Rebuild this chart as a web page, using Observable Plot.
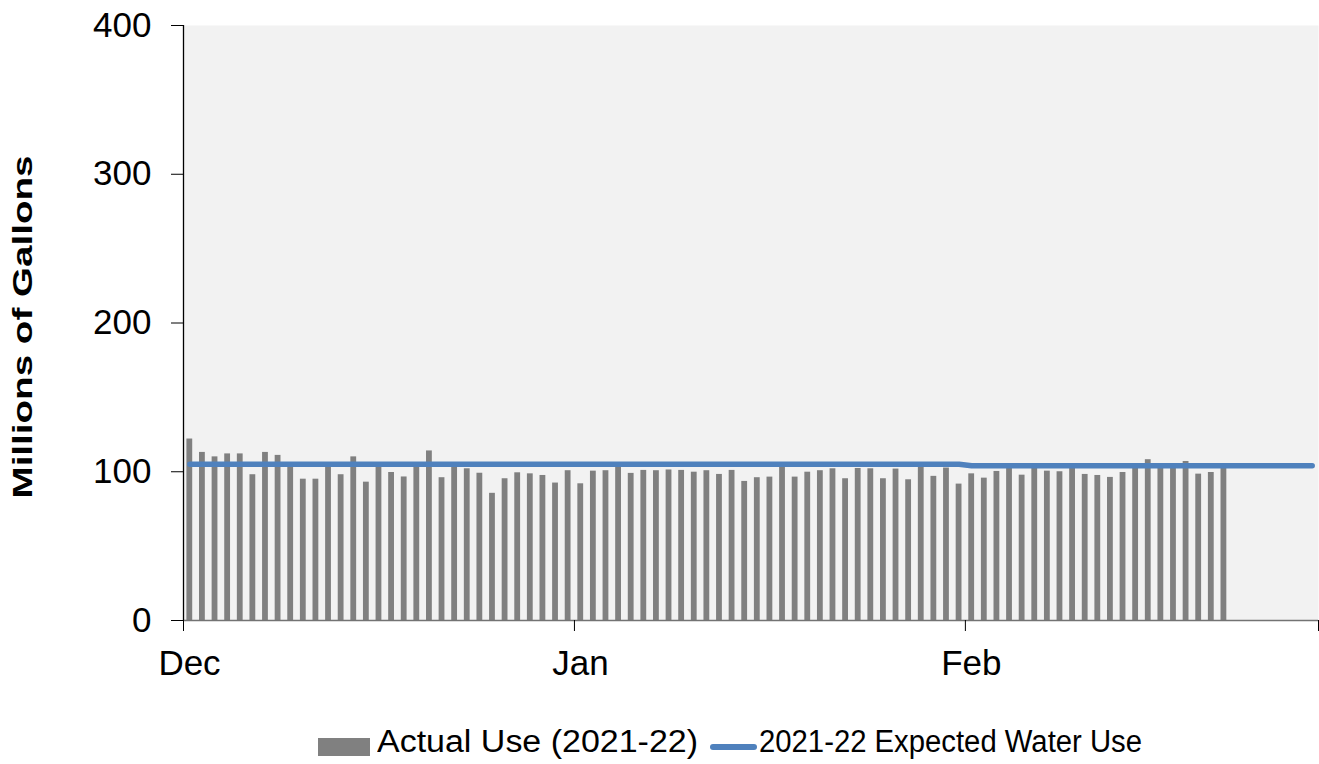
<!DOCTYPE html>
<html>
<head>
<meta charset="utf-8">
<script src="https://cdn.jsdelivr.net/npm/d3@7"></script>
<script src="https://cdn.jsdelivr.net/npm/@observablehq/plot@0.6"></script>
<style>
  body { margin: 0; background: #fff; font-family: "Liberation Sans", Arial, sans-serif; position: relative; width: 1319px; height: 764px; overflow: hidden; }
  .lg { position: absolute; }
  .lg-text { font-size: 31px; line-height: 30px; color: #000; white-space: nowrap; display: inline-block; transform-origin: 0 50%; }
</style>
</head>
<body>
<div id="chart"></div>
<div class="lg" id="sw1" style="left:318px;top:738px;width:52px;height:18px;background:#808080;"></div>
<div class="lg lg-text" id="lt1" style="left:377px;top:727px;"></div>
<div class="lg" id="sw2" style="left:710px;top:744px;width:47px;height:6px;border-radius:3px;background:#4f81bd;"></div>
<div class="lg lg-text" id="lt2" style="left:759px;top:727px;"></div>
<script>
// ---- data ----
const startDate = "2021-12-01";
const actualUse = [
  122, 113, 110, 112, 112, 98, 113, 111, 105, 95,
  95, 105, 98, 110, 93, 105, 99.5, 96.5, 105, 114,
  96, 105, 102, 99, 85.5, 95.3, 99.3, 98.6, 97.5, 92.4,
  100.7, 91.9, 100.4, 100.7, 105, 98.9, 100.9, 100.7, 101.2, 100.9,
  99.7, 100.7, 98.2, 100.9, 93.5, 96, 96.4, 105, 96.4, 99.7,
  100.7, 102, 95.3, 102.2, 102, 95.3, 101.8, 94.6, 105, 96.9,
  102.5, 91.7, 98.6, 95.7, 100.2, 102.5, 97.7, 105, 100.4, 100,
  105, 98.2, 97.5, 96.2, 99.5, 105, 108.1, 105, 105, 106.9,
  98.4, 99.5, 105
];
const expectedDates = ["2021-12-01", "2022-01-31", "2022-02-01", "2022-02-28"];
const expectedValues = [105.1, 105.1, 104.1, 104.1];
const monthTicks = ["2021-12-01", "2022-01-01", "2022-02-01", "2022-03-01"];
const monthLabels = ["Dec", "Jan", "Feb", ""];
const yTicks = [0, 100, 200, 300, 400];
const seriesNames = ["Actual Use (2021-22)", "2021-22 Expected Water Use"];
const yTitle = "Millions of Gallons";

// ---- build ----
const toDate = s => new Date(s + "T00:00:00Z");
const start = toDate(startDate);
const actual = actualUse.map((v, i) => ({date: d3.utcDay.offset(start, i), value: v}));
const expected = expectedDates.map((d, i) => ({date: d3.utcHour.offset(toDate(d), 12), value: expectedValues[i]}));
const ticks = monthTicks.map(toDate);
const labelMap = new Map(ticks.map((t, i) => [+t, monthLabels[i]]));

const chart = Plot.plot({
  width: 1319,
  height: 715,
  marginLeft: 183,
  marginRight: 1,
  marginTop: 25,
  marginBottom: 95,
  style: {fontFamily: "'Liberation Sans', Arial, sans-serif", color: "#000", background: "#fff", overflow: "visible"},
  x: {type: "utc", domain: [ticks[0], ticks[ticks.length - 1]]},
  y: {domain: [0, 400]},
  marks: [
    Plot.frame({fill: "#f2f2f2", stroke: null}),
    Plot.rectY(actual, {x1: "date", x2: d => d3.utcDay.offset(d.date, 1), y: "value", fill: "#808080", insetLeft: 3.4, insetRight: 3.4}),
    Plot.line(expected, {x: "date", y: "value", stroke: "#4f81bd", strokeWidth: 5.5, strokeLinecap: "round"}),
    Plot.ruleY([0], {stroke: "#737373", strokeWidth: 1.5}),
    Plot.ruleX([ticks[0]], {stroke: "#000", strokeWidth: 1.3}),
    Plot.axisY({ticks: yTicks, tickSize: 12, tickPadding: 20, label: null, fontSize: 35, tickFormat: d => String(d), stroke: "#000"}),
    Plot.axisX({ticks: ticks, tickSize: 11, label: null, text: null, stroke: "#000"}),
    Plot.axisX({ticks: ticks, tickSize: 0, tickPadding: 30, dx: 6, label: null, fontSize: 35, tickFormat: d => labelMap.get(+d)}),
    Plot.text([yTitle], {frameAnchor: "left", text: d => d, rotate: -90, dx: -160, dy: 4, textAnchor: "middle", lineAnchor: "middle", fontSize: 28, fontWeight: "bold", fill: "#000", className: "ytitle"})
  ]
});
document.getElementById("chart").appendChild(chart);
d3.select(chart).selectAll(".ytitle text").attr("textLength", 343).attr("lengthAdjust", "spacingAndGlyphs");

// legend text, fitted to the reference widths
const fits = [["lt1", 321], ["lt2", 383]];
fits.forEach(([id, w], i) => {
  const el = document.getElementById(id);
  el.textContent = seriesNames[i];
  const natural = el.getBoundingClientRect().width;
  el.style.transform = `scaleX(${w / natural})`;
});
</script>
</body>
</html>
